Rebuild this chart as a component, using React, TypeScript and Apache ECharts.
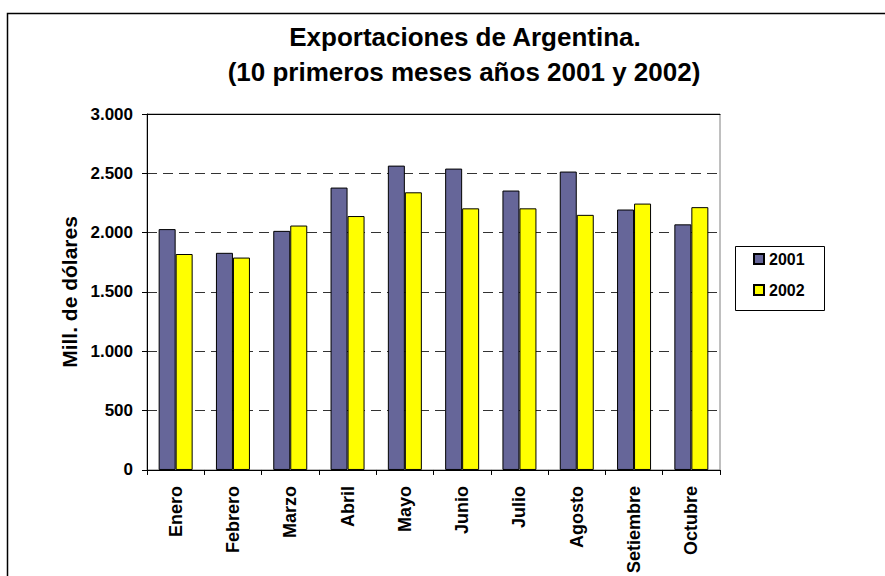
import React, { useEffect, useRef } from "react";
import * as echarts from "echarts";

const categories = ["Enero", "Febrero", "Marzo", "Abril", "Mayo", "Junio", "Julio", "Agosto", "Setiembre", "Octubre"];
const values2001 = [2030, 1830, 2015, 2380, 2565, 2540, 2355, 2515, 2195, 2070];
const values2002 = [1820, 1790, 2060, 2140, 2340, 2205, 2205, 2150, 2245, 2215];
const seriesNames = ["2001", "2002"];
const titleLines = ["Exportaciones de Argentina.", "(10 primeros meses años 2001 y 2002)"];
const yAxisName = "Mill. de dólares";

const FONT = "'Liberation Sans', Arial, sans-serif";

function fmt(v: number): string {
  if (v >= 1000) {
    return Math.floor(v / 1000) + "." + String(v % 1000).padStart(3, "0");
  }
  return String(v);
}

export default function App() {
  const ref = useRef<HTMLDivElement>(null);
  useEffect(() => {
    if (!ref.current) return;
    const chart = echarts.init(ref.current, undefined, { renderer: "svg" });
    chart.setOption({
      animation: false,
      backgroundColor: "#ffffff",
      textStyle: { fontFamily: FONT },
      grid: {
        left: 147,
        right: 165,
        top: 114,
        bottom: 104,
        show: true,
        borderColor: "#808080",
        borderWidth: 1,
      },
      legend: {
        orient: "vertical",
        left: 753,
        top: 251,
        padding: 0,
        itemWidth: 10,
        itemHeight: 10,
        itemGap: 15,
        icon: "rect",
        data: seriesNames,
        textStyle: { fontFamily: FONT, fontWeight: "bold", fontSize: 16, color: "#000" },
      },
      xAxis: [
        {
          type: "category",
          data: categories,
          axisLine: { show: true, lineStyle: { color: "#000", width: 1 } },
          axisTick: { show: true, alignWithLabel: false, length: 5, lineStyle: { color: "#000" } },
          axisLabel: {
            rotate: 90,
            margin: 16,
            fontFamily: FONT,
            fontWeight: "bold",
            fontSize: 18,
            color: "#000",
            interval: 0,
          },
        },
        {
          type: "category",
          position: "top",
          data: categories,
          axisLine: { show: true, lineStyle: { color: "#000", width: 1 } },
          axisTick: { show: false },
          axisLabel: { show: false },
        },
      ],
      yAxis: {
        type: "value",
        min: 0,
        max: 3000,
        interval: 500,
        name: yAxisName,
        nameLocation: "middle",
        nameRotate: 90,
        nameGap: 64,
        nameTextStyle: { fontFamily: FONT, fontWeight: "bold", fontSize: 21, color: "#000" },
        axisLine: { show: true, lineStyle: { color: "#000", width: 1 } },
        axisTick: { show: true, length: 5, lineStyle: { color: "#000" } },
        axisLabel: {
          margin: 14,
          fontFamily: FONT,
          fontWeight: "bold",
          fontSize: 17,
          color: "#000",
          formatter: (v: number) => fmt(v),
        },
        splitLine: { show: true, lineStyle: { color: "#333", type: [10, 6], width: 1 } },
      },
      series: [
        {
          name: seriesNames[0],
          type: "bar",
          data: values2001,
          barWidth: 17,
          barGap: "0%",
          itemStyle: { color: "#666699", borderColor: "#000", borderWidth: 1 },
        },
        {
          name: seriesNames[1],
          type: "bar",
          data: values2002,
          barWidth: 17,
          barGap: "0%",
          itemStyle: { color: "#FFFF00", borderColor: "#000", borderWidth: 1 },
        },
      ],
      graphic: [
        {
          type: "rect",
          left: 5,
          top: 11,
          shape: { x: 0, y: 0, width: 900, height: 620 },
          style: { fill: "none", stroke: "#000", lineWidth: 1.5 },
          silent: true,
        },
        {
          type: "rect",
          left: 733,
          top: 244,
          shape: { x: 0, y: 0, width: 89, height: 64 },
          style: { fill: "none", stroke: "#000", lineWidth: 1 },
          silent: true,
        },
        {
          type: "text",
          x: 465,
          y: 37,
          style: {
            text: titleLines[0],
            fontFamily: FONT,
            fontWeight: "bold",
            fontSize: 26,
            fill: "#000",
            textAlign: "center",
            textVerticalAlign: "middle",
          },
        },
        {
          type: "text",
          x: 464,
          y: 72,
          style: {
            text: titleLines[1],
            fontFamily: FONT,
            fontWeight: "bold",
            fontSize: 26,
            fill: "#000",
            textAlign: "center",
            textVerticalAlign: "middle",
          },
        },
      ],
    });
    return () => chart.dispose();
  }, []);
  return (
    <div
      ref={ref}
      style={{ position: "fixed", left: 0, top: 0, width: 885, height: 576, background: "#fff" }}
    />
  );
}
